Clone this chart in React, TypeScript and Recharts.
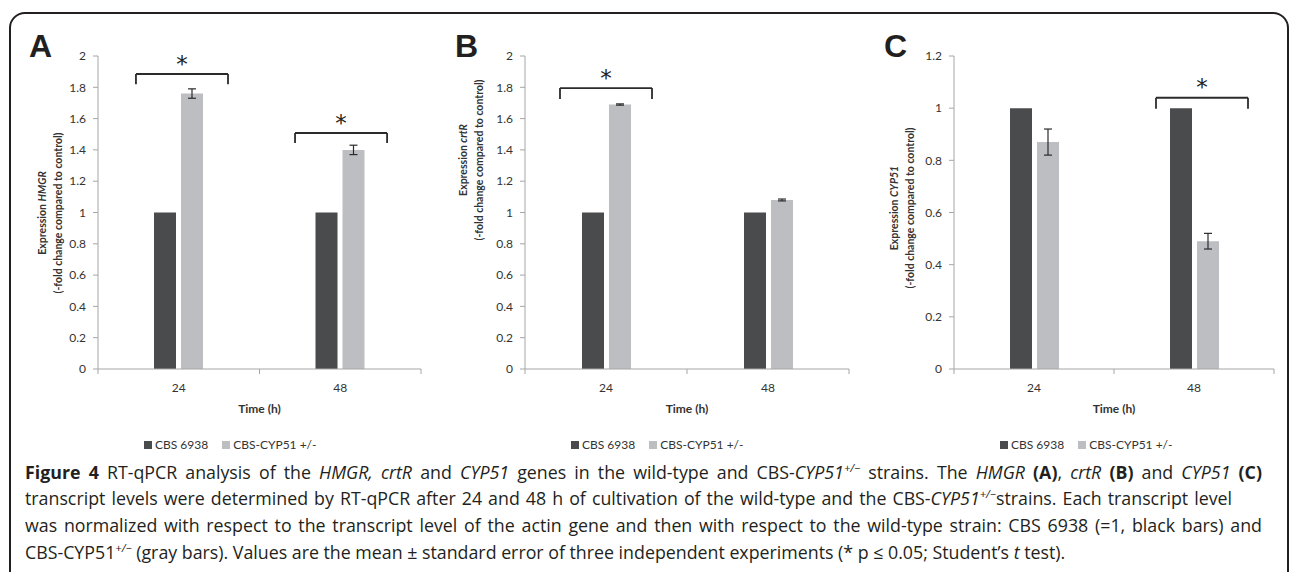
import React from 'react';
import { BarChart, Bar, XAxis, YAxis, ErrorBar, ReferenceLine, ReferenceDot } from 'recharts';

const CATEGORIES = ['24', '48'];
const SERIES_NAMES = ['CBS 6938', 'CBS-CYP51 +/-'];

const HMGR_WT = [1, 1];
const HMGR_MUT = [1.76, 1.4];
const HMGR_ERR = [0.03, 0.03];

const CRTR_WT = [1, 1];
const CRTR_MUT = [1.69, 1.08];
const CRTR_ERR = [0.004, 0.006];

const CYP51_WT = [1, 1];
const CYP51_MUT = [0.87, 0.49];
const CYP51_ERR = [0.05, 0.03];

const TICKS_2 = [0, 0.2, 0.4, 0.6, 0.8, 1, 1.2, 1.4, 1.6, 1.8, 2];
const TICKS_12 = [0, 0.2, 0.4, 0.6, 0.8, 1, 1.2];

// significance brackets in data units (x: 0..2 across the two categories)
const HMGR_SIG = [
  { from: 0.235, to: 0.805, top: 1.885, leg: 1.82, star: 1.95 },
  { from: 1.22, to: 1.79, top: 1.508, leg: 1.444, star: 1.575 },
];
const CRTR_SIG = [{ from: 0.216, to: 0.784, top: 1.795, leg: 1.725, star: 1.86 }];
const CYP51_SIG = [{ from: 1.2625, to: 1.8375, top: 1.04, leg: 0.998, star: 1.08 }];

const DARK = '#4a4b4d';
const LIGHT = '#bdbec2';
const AXIS = '#a6a6a6';
const TXT = '#333333';
const CHART_FONT = 'Lato';

const XTick = (props: any) => {
  const { x, y, payload } = props;
  const v = payload.value;
  if (Number.isInteger(v)) {
    return <line x1={x} x2={x} y1={y} y2={y + 5} stroke={AXIS} strokeWidth={1} />;
  }
  const idx = Math.floor(v);
  return (
    <text x={x} y={y + 18} textAnchor="middle" dominantBaseline="central" fill={TXT} fontSize={12} fontFamily={CHART_FONT}>
      {CATEGORIES[idx]}
    </text>
  );
};

type PanelProps = {
  left: number;
  plotWidth: number;
  wt: number[];
  mut: number[];
  err: number[];
  ticks: number[];
  max: number;
  sig: { from: number; to: number; top: number; leg: number; star: number }[];
};

function Panel({ left, plotWidth, wt, mut, err, ticks, max, sig }: PanelProps) {
  const data = CATEGORIES.map((c, i) => ({ cat: c, pos: i + 0.5, wt: wt[i], mut: mut[i], err: err[i] }));
  const width = 58 + 40 + plotWidth + 9;
  const lineProps = { xAxisId: 'n', stroke: '#2b2b2b', strokeWidth: 1.8, ifOverflow: 'visible' as const };
  return (
    <div style={{ position: 'absolute', left, top: 0 }}>
      <BarChart
        width={width}
        height={460}
        data={data}
        margin={{ top: 56, right: 9, left: 58, bottom: 61 }}
        barSize={22}
        barGap={5}
      >
        <XAxis
          xAxisId="n"
          dataKey="pos"
          type="number"
          domain={[0, 2]}
          allowDataOverflow
          ticks={[0, 0.5, 1, 1.5, 2]}
          interval={0}
          height={30}
          axisLine={{ stroke: AXIS }}
          tickLine={false}
          tickSize={0}
          tickMargin={0}
          tick={<XTick />}
        />
        <XAxis xAxisId="c" dataKey="cat" hide height={0} />
        <YAxis
          domain={[0, max]}
          ticks={ticks}
          interval={0}
          width={40}
          tickSize={5}
          tickMargin={7}
          axisLine={{ stroke: AXIS }}
          tickLine={{ stroke: AXIS }}
          tick={{ fill: TXT, fontSize: 12, fontFamily: CHART_FONT }}
        />
        <Bar xAxisId="c" dataKey="wt" name={SERIES_NAMES[0]} fill={DARK} isAnimationActive={false} />
        <Bar xAxisId="c" dataKey="mut" name={SERIES_NAMES[1]} fill={LIGHT} isAnimationActive={false}>
          <ErrorBar dataKey="err" width={4} stroke="#2b2b2b" strokeWidth={1.2} direction="y" />
        </Bar>
        {sig.flatMap((s, i) => [
          <ReferenceLine key={`h${i}`} {...lineProps} segment={[{ x: s.from, y: s.top }, { x: s.to, y: s.top }]} />,
          <ReferenceLine key={`l${i}`} {...lineProps} segment={[{ x: s.from, y: s.leg }, { x: s.from, y: s.top }]} />,
          <ReferenceLine key={`r${i}`} {...lineProps} segment={[{ x: s.to, y: s.leg }, { x: s.to, y: s.top }]} />,
          <ReferenceDot
            key={`s${i}`}
            xAxisId="n"
            x={(s.from + s.to) / 2}
            y={s.star}
            r={0}
            fill="none"
            stroke="none"
            label={{ value: '*', position: 'center', fontSize: 23, fill: '#222222', fontFamily: 'DejaVu Sans' }}
          />,
        ])}
      </BarChart>
    </div>
  );
}

function LegendBox({ left }: { left: number }) {
  const colors = [DARK, LIGHT];
  return (
    <div
      style={{
        position: 'absolute',
        left,
        top: 437,
        display: 'flex',
        alignItems: 'center',
        fontFamily: CHART_FONT,
        fontSize: 12,
        color: TXT,
        whiteSpace: 'nowrap',
        lineHeight: '16px',
      }}
    >
      {SERIES_NAMES.map((n, i) => (
        <span key={n} style={{ display: 'flex', alignItems: 'center', marginRight: 14 }}>
          <span style={{ display: 'inline-block', width: 8, height: 8, background: colors[i], marginRight: 3 }} />
          {n}
        </span>
      ))}
    </div>
  );
}

function YLabel({ cx, cy, gene }: { cx: number; cy: number; gene: string }) {
  return (
    <g>
      <text
        transform={`translate(${cx - 8},${cy}) rotate(-90)`}
        textAnchor="middle"
        dominantBaseline="central"
        fontFamily={CHART_FONT}
        fontWeight="bold"
        fontSize={10.5}
        fill={TXT}
      >
        Expression <tspan fontStyle="italic">{gene}</tspan>
      </text>
      <text
        transform={`translate(${cx + 8},${cy}) rotate(-90)`}
        textAnchor="middle"
        dominantBaseline="central"
        fontFamily={CHART_FONT}
        fontWeight="bold"
        fontSize={10.5}
        fill={TXT}
      >
        (-fold change compared to control)
      </text>
    </g>
  );
}

const sup = (t: string) => (
  <sup style={{ fontSize: '0.62em', lineHeight: 0, fontStyle: 'italic' }}>{t}</sup>
);

export default function App() {
  const base: React.CSSProperties = { whiteSpace: 'nowrap', height: 26.7, lineHeight: '26.7px' };
  const just = (w: number): React.CSSProperties => ({
    ...base,
    width: w,
    textAlign: 'justify',
    textAlignLast: 'justify',
  });
  return (
    <div
      style={{
        position: 'absolute',
        left: 0,
        top: 0,
        width: 1290,
        height: 572,
        overflow: 'hidden',
        background: '#ffffff',
      }}
    >
      <div
        style={{
          position: 'absolute',
          left: 9,
          top: 12,
          width: 1280,
          height: 640,
          border: '2px solid #231f20',
          borderRadius: 16,
          boxSizing: 'border-box',
        }}
      />
      <Panel left={0} plotWidth={323} wt={HMGR_WT} mut={HMGR_MUT} err={HMGR_ERR} ticks={TICKS_2} max={2} sig={HMGR_SIG} />
      <Panel left={427} plotWidth={324} wt={CRTR_WT} mut={CRTR_MUT} err={CRTR_ERR} ticks={TICKS_2} max={2} sig={CRTR_SIG} />
      <Panel left={856} plotWidth={320} wt={CYP51_WT} mut={CYP51_MUT} err={CYP51_ERR} ticks={TICKS_12} max={1.2} sig={CYP51_SIG} />

      <svg width={1290} height={572} style={{ position: 'absolute', left: 0, top: 0, pointerEvents: 'none' }}>
        <text x={29} y={57} fontFamily="Liberation Sans" fontWeight="bold" fontSize={32} fill="#231f20">A</text>
        <text x={455} y={57} fontFamily="Liberation Sans" fontWeight="bold" fontSize={32} fill="#231f20">B</text>
        <text x={884} y={57} fontFamily="Liberation Sans" fontWeight="bold" fontSize={32} fill="#231f20">C</text>
        <YLabel cx={50} cy={213} gene="HMGR" />
        <YLabel cx={471} cy={160} gene="crtR" />
        <YLabel cx={902} cy={208} gene="CYP51" />
        {[259.5, 687, 1114].map((cx) => (
          <text key={cx} x={cx} y={408} textAnchor="middle" dominantBaseline="central" fontFamily={CHART_FONT} fontWeight="bold" fontSize={12} fill={TXT}>
            Time (h)
          </text>
        ))}
      </svg>

      <LegendBox left={144} />
      <LegendBox left={571} />
      <LegendBox left={1000} />

      <div
        style={{
          position: 'absolute',
          left: 25,
          top: 458.7,
          fontFamily: 'Open Sans',
          fontSize: 17.8,
          color: '#231f20',
        }}
      >
        <div style={just(1237)}>
          <b>Figure 4</b> RT-qPCR analysis of the <i>HMGR, crtR</i> and <i>CYP51</i> genes in the wild-type and CBS-<i>CYP51</i>
          {sup('+/−')} strains. The <i>HMGR</i> <b>(A)</b>, <i>crtR</i> <b>(B)</b> and <i>CYP51</i> <b>(C)</b>
        </div>
        <div style={just(1207)}>
          transcript levels were determined by RT-qPCR after 24 and 48 h of cultivation of the wild-type and the CBS-<i>CYP51</i>
          {sup('+/−')}strains. Each transcript level
        </div>
        <div style={just(1237)}>
          was normalized with respect to the transcript level of the actin gene and then with respect to the wild-type strain: CBS 6938 (=1, black bars) and
        </div>
        <div style={base}>
          CBS-CYP51{sup('+/−')} (gray bars). Values are the mean ± standard error of three independent experiments (* p ≤ 0.05; Student’s <i>t</i> test).
        </div>
      </div>
    </div>
  );
}
